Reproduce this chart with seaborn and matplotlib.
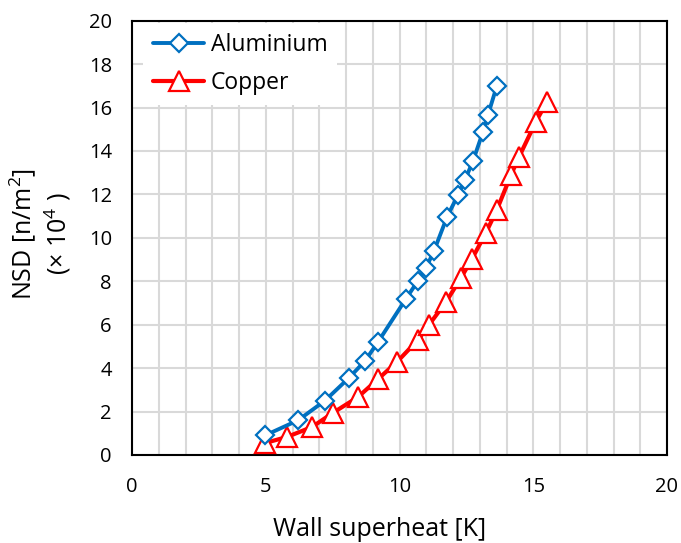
import matplotlib
matplotlib.use("Agg")
import matplotlib.pyplot as plt
import seaborn as sns
import pandas as pd
from matplotlib.ticker import MultipleLocator

al_x = [4.97, 6.21, 7.21, 8.11, 8.71, 9.20, 10.24, 10.69, 10.99, 11.29,
        11.78, 12.19, 12.45, 12.75, 13.12, 13.31, 13.64]
al_y = [0.90, 1.60, 2.50, 3.55, 4.33, 5.21, 7.19, 8.02, 8.62, 9.40,
        10.97, 11.98, 12.67, 13.55, 14.88, 15.67, 17.00]

cu_x = [4.97, 5.79, 6.73, 7.51, 8.45, 9.20, 9.91, 10.69, 11.10, 11.74,
        12.30, 12.71, 13.23, 13.64, 14.17, 14.47, 15.10, 15.51]
cu_y = [0.55, 0.83, 1.29, 1.94, 2.67, 3.50, 4.29, 5.30, 5.99, 7.05,
        8.16, 9.03, 10.23, 11.29, 12.90, 13.73, 15.35, 16.27]

x_ticks = [0, 5, 10, 15, 20]
y_ticks = [0, 2, 4, 6, 8, 10, 12, 14, 16, 18, 20]

sns.set_style("white")
plt.rcParams['font.family'] = ['Open Sans', 'DejaVu Sans']
plt.rcParams['mathtext.fontset'] = 'custom'
plt.rcParams['mathtext.rm'] = 'Open Sans'
plt.rcParams['mathtext.it'] = 'Open Sans'
plt.rcParams['mathtext.default'] = 'regular'
plt.rcParams['text.color'] = 'black'
plt.rcParams['axes.labelcolor'] = 'black'
plt.rcParams['xtick.color'] = 'black'
plt.rcParams['ytick.color'] = 'black'

fig = plt.figure(figsize=(6.81, 5.43), dpi=100)
ax = fig.add_axes([132 / 681, 1 - 455 / 543, 535 / 681, 434.3 / 543])

df_al = pd.DataFrame({"x": al_x, "y": al_y})
df_cu = pd.DataFrame({"x": cu_x, "y": cu_y})

sns.lineplot(data=df_al, x="x", y="y", ax=ax, sort=False, color="#0070C0",
             linewidth=2.8, marker="D", markersize=9, markerfacecolor="white",
             markeredgecolor="#0070C0", markeredgewidth=1.6, label="Aluminium", zorder=4)
sns.lineplot(data=df_cu, x="x", y="y", ax=ax, sort=False, color="#FF0000",
             linewidth=3.0, marker="^", markersize=14, markerfacecolor="white",
             markeredgecolor="#FF0000", markeredgewidth=1.6, label="Copper", zorder=3)

ax.set_xlim(0, 20)
ax.set_ylim(0, 20)
ax.set_xticks(x_ticks)
ax.set_yticks(y_ticks)
ax.xaxis.set_minor_locator(MultipleLocator(1))
ax.grid(which="major", color="#D9D9D9", linewidth=1.5, zorder=0)
ax.grid(which="minor", axis="x", color="#D9D9D9", linewidth=1.5, zorder=0)
ax.set_axisbelow(True)

for s in ax.spines.values():
    s.set_color("black")
    s.set_linewidth(1.5)

ax.tick_params(axis="both", which="major", direction="out", length=6.5, width=1.3,
               color="black", labelcolor="black", labelsize=14.5)
ax.tick_params(axis="x", which="major", pad=9)
ax.tick_params(axis="y", which="major", pad=8)
ax.tick_params(axis="x", which="minor", length=0)

ax.set_xlabel("Wall superheat [K]", fontsize=18, va="baseline", color="black")
ax.xaxis.set_label_coords(0.4636, -0.1865)
ax.set_ylabel("NSD [n/m$^2$]\n(× 10$^4$ )", fontsize=18, linespacing=1.2,
              va="center", color="black")
ax.yaxis.set_label_coords(-0.172, 0.51)

leg = ax.legend(loc="upper left", bbox_to_anchor=(0.0206, 0.9946), borderaxespad=0,
                frameon=True, fontsize=16.5, handlelength=2.26, borderpad=0.42,
                labelspacing=0.62, handletextpad=0.28, fancybox=False)
leg.get_frame().set_facecolor("white")
leg.get_frame().set_edgecolor("white")
leg.get_frame().set_alpha(1)
leg.get_frame().set_linewidth(0)
for t in leg.get_texts():
    t.set_color("black")

fig.savefig("out.png", dpi=100)
